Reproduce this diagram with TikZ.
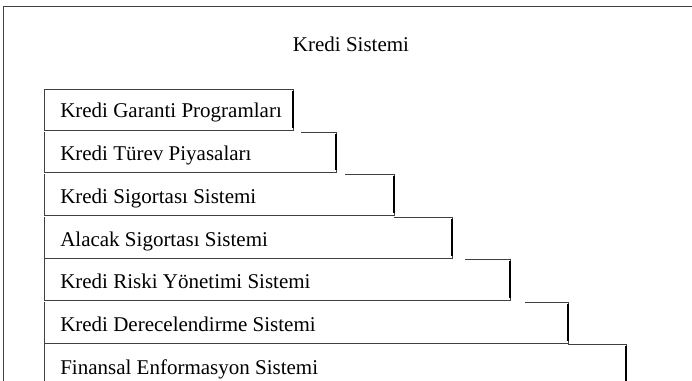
\documentclass[tikz,border=0pt]{standalone}
\usepackage{fontspec}
\setmainfont{Liberation Serif}
\usepackage{tikz}
\tikzset{
  lbl/.style={ anchor=base west, inner sep=0pt, font=\fontsize{15.75}{19}\selectfont }
}
\tikzset{
  edgeln/.style={ draw=black!75, line width=0.6pt }
}
\tikzset{
  sideln/.style={ draw=black, line width=1.1pt }
}

\begin{document}
\begin{tikzpicture}[x=0.75pt, y=-0.75pt]
      \useasboundingbox (0,0) rectangle (692,381);
      \clip (0,0) rectangle (692,381);

      % outer frame, runs off the page
      \draw[edgeln] (3,395) -- (3,6) -- (700,6);
      \node[lbl, anchor=base] (title) at (351,52) {Kredi Sistemi};

      \node[lbl] (kgp) at (60,118) {Kredi Garanti Programları};
      \node[lbl] (ktp) at (60,161) {Kredi Türev Piyasaları};
      \node[lbl] (kss) at (60,203) {Kredi Sigortası Sistemi};
      \node[lbl] (ass) at (60,246) {Alacak Sigortası Sistemi};
      \node[lbl] (kry) at (60,288) {Kredi Riski Yönetimi Sistemi};
      \node[lbl] (kds) at (60,331) {Kredi Derecelendirme Sistemi};
      \node[lbl] (fes) at (60,374) {Finansal Enformasyon Sistemi};

      \draw[edgeln] (44,130) -- (44,89) -- (293,89) -- (293,130) -- cycle;
      \draw[edgeln] (301,132) -- (336,132) -- (336,172) -- (44,172) -- (44,132);
      \draw[edgeln] (345,174) -- (394,174) -- (394,215) -- (44,215) -- (44,174);
      \draw[edgeln] (394,217) -- (452,217) -- (452,258) -- (44,258) -- (44,217);
      \draw[edgeln] (465,259) -- (510,259) -- (510,300) -- (44,300) -- (44,259);
      \draw[edgeln] (525,302) -- (568,302) -- (568,343) -- (44,343) -- (44,302);
      \draw[edgeln] (568,344) -- (626,344) -- (626,395);
      \draw[edgeln] (44,344) -- (44,395);

      \draw[sideln] (293,91) -- (293,128);
      \draw[sideln] (336,134) -- (336,170);
      \draw[sideln] (394,176) -- (394,213);
      \draw[sideln] (452,219) -- (452,256);
      \draw[sideln] (510,261) -- (510,298);
      \draw[sideln] (568,304) -- (568,341);
      \draw[sideln] (626,346) -- (626,395);
\end{tikzpicture}
\end{document}
